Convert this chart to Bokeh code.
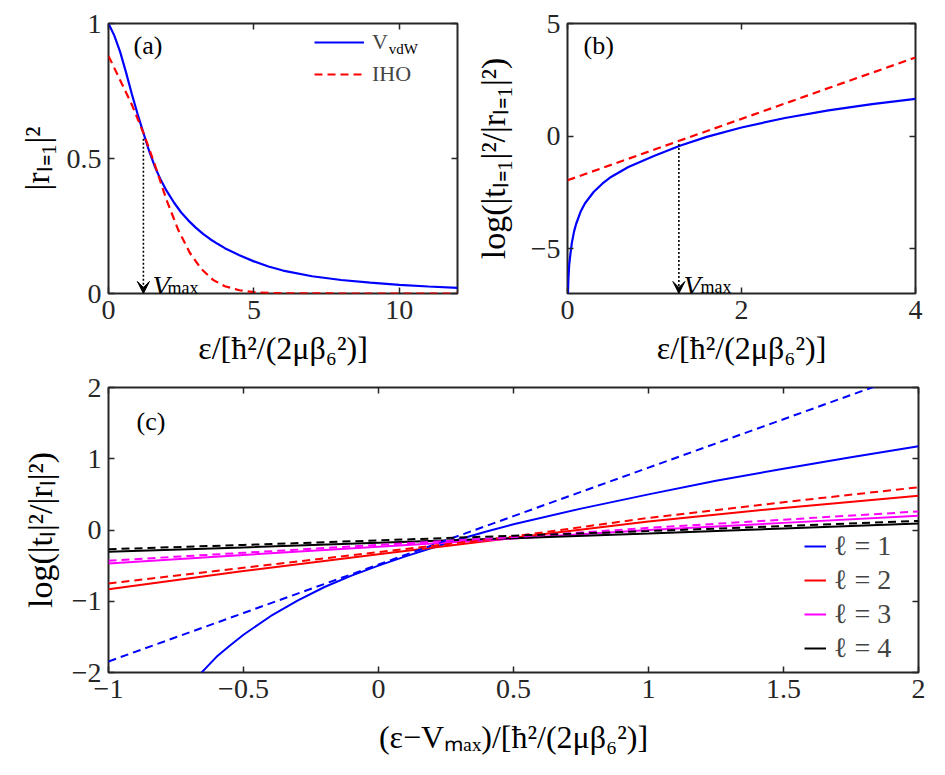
from bokeh.plotting import figure
from bokeh.models import (Range1d, LinearAxis, FixedTicker, Legend, LegendItem,
                          Arrow, VeeHead, Label, CustomLabelingPolicy)
from bokeh.layouts import column, row
from bokeh.embed import file_html
from bokeh.resources import INLINE

FONT = "Liberation Serif"
DARK = "#262626"

# ---------------- data: panel (a) ----------------
a_eps_vdw = [0, 0.2, 0.4, 0.6, 0.8, 1.0, 1.2, 1.4, 1.6, 1.8, 2.0, 2.25, 2.5, 2.75,
             3.0, 3.25, 3.5, 3.75, 4.0, 4.5, 5.0, 5.5, 6, 7, 8, 9, 10, 11, 12]
a_r_vdw = [1.0, 0.955, 0.895, 0.82, 0.74, 0.665, 0.595, 0.527, 0.468, 0.42, 0.38,
           0.337, 0.300, 0.270, 0.244, 0.221, 0.201, 0.184, 0.168, 0.142, 0.119,
           0.100, 0.085, 0.064, 0.05, 0.04, 0.032, 0.026, 0.021]
a_eps_iho = [0, 0.4, 0.8, 1.2, 1.6, 2.0, 2.4, 2.8, 3.2, 3.6, 4.0, 4.5, 5.0, 5.5,
             6, 8, 10, 12]
a_r_iho = [0.88, 0.79, 0.70, 0.595, 0.475, 0.345, 0.235, 0.15, 0.09, 0.05, 0.027,
           0.012, 0.005, 0.002, 0.001, 0.0, 0.0, 0.0]
a_xticks = [0, 5, 10]
a_yticks = [0, 0.5, 1]
vmax_a = 1.2
arrow_top_a = 0.573

# ---------------- data: panel (b) ----------------
b_eps_vdw = [0.004, 0.01, 0.02, 0.035, 0.05, 0.075, 0.1, 0.15, 0.2, 0.3, 0.4, 0.5,
             0.7, 1.0, 1.3, 1.6, 2.0, 2.5, 3.0, 3.5, 4.0]
b_v_vdw = [-7.2, -6.4, -5.7, -5.2, -4.75, -4.25, -3.9, -3.37, -3.0, -2.49, -2.12,
           -1.82, -1.38, -0.88, -0.42, -0.04, 0.38, 0.80, 1.14, 1.42, 1.65]
b_eps_iho = [0, 1, 2, 3, 4]
b_v_iho = [-1.97, -0.60, 0.76, 2.13, 3.49]
b_xticks = [0, 2, 4]
b_yticks = [-5, 0, 5]
vmax_b = 1.28
arrow_top_b = -0.35

# ---------------- data: panel (c) ----------------
c_x = [-1, -0.5, 0, 0.5, 1, 1.5, 2]
c_l1_vdw_x = [-0.655, -0.63, -0.6, -0.55, -0.5, -0.4, -0.3, -0.2, -0.1, 0, 0.1,
              0.2, 0.3, 0.4, 0.5, 0.75, 1.0, 1.25, 1.5, 1.75, 2.0]
c_l1_vdw = [-2.0, -1.9, -1.78, -1.62, -1.47, -1.21, -0.99, -0.80, -0.64, -0.50,
            -0.37, -0.25, -0.13, -0.02, 0.08, 0.30, 0.50, 0.69, 0.86, 1.02, 1.175]
c_l1_iho = [-1.845, -1.165, -0.485, 0.195, 0.875, 1.555, 2.235]
c_l2_vdw = [-0.83, -0.575, -0.34, -0.11, 0.12, 0.31, 0.48]
c_l2_iho = [-0.75, -0.53, -0.31, -0.09, 0.17, 0.39, 0.60]
c_l3_vdw = [-0.47, -0.35, -0.235, -0.12, 0.0, 0.10, 0.20]
c_l3_iho = [-0.43, -0.32, -0.21, -0.10, 0.03, 0.145, 0.26]
c_l4_vdw = [-0.305, -0.245, -0.18, -0.115, -0.05, 0.02, 0.09]
c_l4_iho = [-0.27, -0.21, -0.146, -0.08, -0.015, 0.055, 0.127]
c_xticks = [-1, -0.5, 0, 0.5, 1, 1.5, 2]
c_yticks = [-2, -1, 0, 1, 2]
c_labels = ["ℓ = 1", "ℓ = 2", "ℓ = 3", "ℓ = 4"]
c_colors = ["#0000FF", "#FF0000", "#FF00FF", "#000000"]


def fmt(v):
    s = ("%g" % v)
    return s.replace("-", "\u2212")


def make_fig(xr, yr, fw, fh, borders, xticks, yticks, xlabel, ylabel,
             xl_standoff, yl_standoff, xl_size="32px", yl_size="34px"):
    l, r, t, b = borders
    p = figure(frame_width=fw, frame_height=fh,
               x_range=Range1d(*xr), y_range=Range1d(*yr),
               output_backend="svg", toolbar_location=None,
               min_border_left=l, min_border_right=r,
               min_border_top=t, min_border_bottom=b,
               background_fill_color="white", border_fill_color="white")
    p.xgrid.visible = False
    p.ygrid.visible = False
    p.outline_line_color = DARK
    p.outline_line_width = 2
    p.outline_line_alpha = 1

    for ax, ticks, lab, so, sz in ((p.xaxis[0], xticks, xlabel, xl_standoff, xl_size),
                                   (p.yaxis[0], yticks, ylabel, yl_standoff, yl_size)):
        ax.ticker = FixedTicker(ticks=ticks)
        ax.major_label_overrides = {float(v): fmt(v) for v in ticks}
        ax.axis_line_color = None
        ax.major_tick_in = 6
        ax.major_tick_out = 0
        ax.major_tick_line_color = DARK
        ax.major_tick_line_width = 1.5
        ax.minor_tick_line_color = None
        ax.major_label_text_font = FONT
        ax.major_label_text_font_size = "28px"
        ax.major_label_text_color = DARK
        ax.major_label_standoff = 7
        ax.axis_label = lab
        ax.axis_label_text_font = FONT
        ax.axis_label_text_font_size = sz
        ax.axis_label_text_font_style = "normal"
        ax.axis_label_text_color = "#000000"
        ax.axis_label_standoff = so

    # tick marks on the opposite sides, no labels shown
    for side, ticks in (("above", xticks), ("right", yticks)):
        ax = LinearAxis(ticker=FixedTicker(ticks=ticks),
                        axis_line_color=None,
                        major_tick_in=6, major_tick_out=0,
                        major_tick_line_color=DARK, major_tick_line_width=1.5,
                        minor_tick_line_color=None,
                        major_label_standoff=0,
                        major_label_text_font_size="1px",
                        major_label_policy=CustomLabelingPolicy(
                            code="for (const i of indices) indices.unset(i)"))
        p.add_layout(ax, side)
    return p


def text_label(p, x, y, txt, size, style="normal", baseline="middle"):
    p.add_layout(Label(x=x, y=y, text=txt, text_font=FONT,
                       text_font_size=size, text_font_style=style,
                       text_baseline=baseline, text_align="left",
                       text_color="#000000"))


X_LABEL = "ε/[ħ²/(2μβ₆²)]"

# ---------------- panel (a) ----------------
pa = make_fig((0, 12), (0, 1), 349, 270, (108, 10, 23, 80), a_xticks, a_yticks,
              X_LABEL, "|rₗ₌₁|²", 8, 8)
ra1 = pa.line(a_eps_vdw, a_r_vdw, line_color="#0000FF", line_width=2.2)
ra2 = pa.line(a_eps_iho, a_r_iho, line_color="#FF0000", line_width=2.2,
              line_dash="8 5")
pa.add_layout(Arrow(end=VeeHead(size=12, fill_color="black", line_color="black",
                                line_width=1),
                    x_start=vmax_a, y_start=arrow_top_a, x_end=vmax_a, y_end=0,
                    line_color="black", line_width=1.6, line_dash="2 2"))
leg_a = Legend(items=[LegendItem(label="V", renderers=[ra1]),
                      LegendItem(label="IHO", renderers=[ra2])],
               location=(206, 206), glyph_width=50, glyph_height=20,
               label_standoff=8, spacing=6, padding=4, margin=0,
               label_text_font=FONT, label_text_font_size="22px",
               border_line_color=None, background_fill_alpha=0)
pa.add_layout(leg_a)
text_label(pa, 9.64, 0.905, "vdW", "15px", baseline="alphabetic")
text_label(pa, 0.86, 0.92, "(a)", "26px")
text_label(pa, 1.51, 0.03, "V", "28px", style="italic", baseline="alphabetic")
text_label(pa, 2.03, 0.022, "max", "18px", baseline="alphabetic")

# ---------------- panel (b) ----------------
pb = make_fig((0, 4), (-7, 5), 348, 270, (100, 12, 23, 80), b_xticks, b_yticks,
              X_LABEL, "log(|tₗ₌₁|²/|rₗ₌₁|²)", 8, 16)
pb.line(b_eps_vdw, b_v_vdw, line_color="#0000FF", line_width=2.2)
pb.line(b_eps_iho, b_v_iho, line_color="#FF0000", line_width=2.2, line_dash="8 5")
pb.add_layout(Arrow(end=VeeHead(size=12, fill_color="black", line_color="black",
                                line_width=1),
                    x_start=vmax_b, y_start=arrow_top_b, x_end=vmax_b, y_end=-7,
                    line_color="black", line_width=1.6, line_dash="2 2"))
text_label(pb, 0.184, 4.02, "(b)", "26px")
text_label(pb, 1.333, -6.64, "V", "28px", style="italic", baseline="alphabetic")
text_label(pb, 1.53, -6.73, "max", "18px", baseline="alphabetic")

# ---------------- panel (c) ----------------
pc = make_fig((-1, 2), (-2, 2), 810, 285, (108, 10, 14, 90), c_xticks, c_yticks,
              "(ε−Vₘₐₓ)/[ħ²/(2μβ₆²)]", "log(|tₗ|²/|rₗ|²)", 18, 10)
solid = [
    pc.line(c_l1_vdw_x, c_l1_vdw, line_color=c_colors[0], line_width=2),
    pc.line(c_x, c_l2_vdw, line_color=c_colors[1], line_width=2),
    pc.line(c_x, c_l3_vdw, line_color=c_colors[2], line_width=2),
    pc.line(c_x, c_l4_vdw, line_color=c_colors[3], line_width=2),
]
for ys, col in zip([c_l1_iho, c_l2_iho, c_l3_iho, c_l4_iho], c_colors):
    pc.line(c_x, ys, line_color=col, line_width=2, line_dash="8 5")
leg_c = Legend(items=[LegendItem(label=lab, renderers=[r])
                      for lab, r in zip(c_labels, solid)],
               location=(696, 8), glyph_width=22, glyph_height=20,
               label_standoff=8, spacing=2, padding=4, margin=0,
               label_text_font=FONT, label_text_font_size="28px",
               border_line_color=None, background_fill_alpha=0)
pc.add_layout(leg_c)
text_label(pc, -0.896, 1.516, "(c)", "26px")

layout = column(row(pa, pb), pc)
open("out.html", "w").write(file_html(layout, INLINE))
